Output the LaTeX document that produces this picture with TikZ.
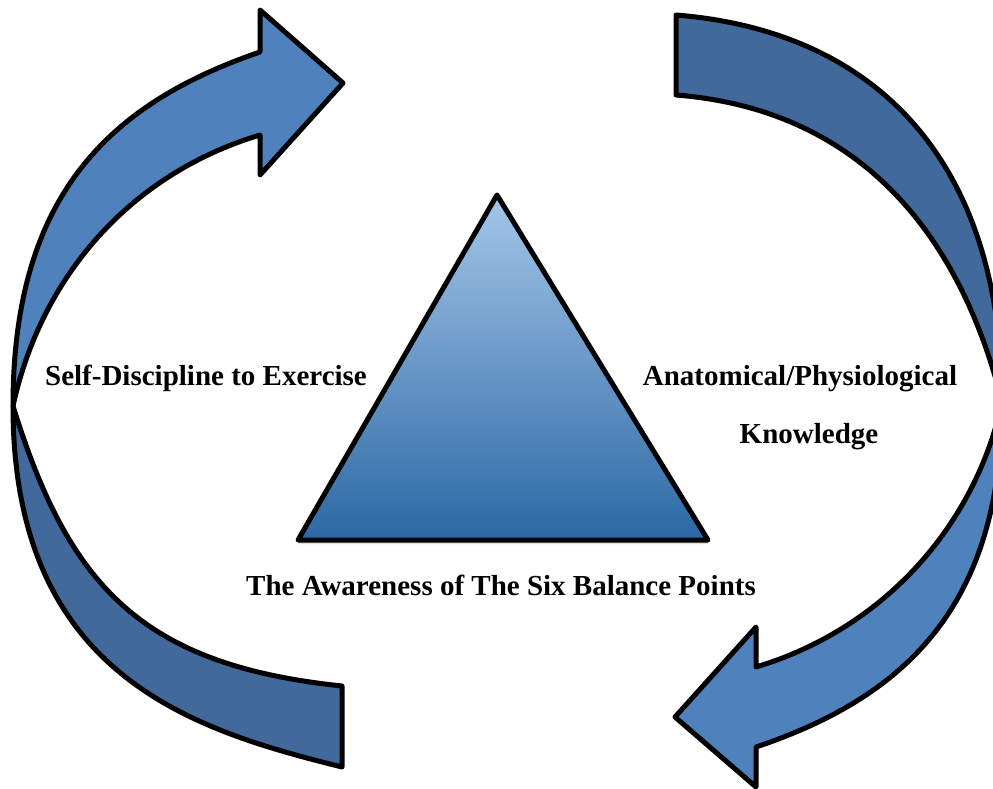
\documentclass[tikz,border=0pt]{standalone}
\usepackage{fontspec}
\setmainfont{Liberation Serif}
\usetikzlibrary{shadows}
\definecolor{arrowfront}{HTML}{4F81BD}
\definecolor{arrowback}{HTML}{41699B}
\definecolor{pyrtop}{HTML}{A4C6E9}
\definecolor{pyrmid}{HTML}{5E9BD3}
\definecolor{pyrbot}{HTML}{2C68A4}
\tikzset{
  frontband/.style={fill=arrowfront, draw=black, line width=5pt, line join=round},
  backband/.style={fill=arrowback, draw=black, line width=5pt, line join=round},
  pyramid/.style={top color=pyrtop, middle color=pyrmid, bottom color=pyrbot,
                  draw=black, line width=5pt, line join=round,
                  drop shadow={shadow xshift=0pt, shadow yshift=-4pt, opacity=0.25}},
  caption/.style={font=\fontsize{29}{34}\selectfont\bfseries, text=black,
                  anchor=base, inner sep=0pt},
}

\begin{document}
\begin{tikzpicture}[x=1pt, y=-1pt]
  \useasboundingbox (0,0) rectangle (993,789);
  \clip (0,0) rectangle (993,789);

  % left arrow, tail at the bottom, head pointing right at the top
  \coordinate (lcross) at (13,406);
  \draw[backband] (lcross) .. controls (13,676) and (193,730) .. (342,767)
    -- (342,686) .. controls (142,665) and (69,587) .. (lcross) -- cycle;
  \draw[frontband] (lcross) .. controls (13,194) and (111,103) .. (260,52)
    -- (260,10) -- (343,83) -- (260,175) -- (260,135)
    .. controls (130,174) and (41,277) .. (lcross) -- cycle;

  % right arrow, tail at the top, head pointing left at the bottom
  \coordinate (rcross) at (1002,402);
  \draw[backband] (676,15) .. controls (876,31) and (1002,161) .. (rcross)
    .. controls (962,242) and (866,110) .. (676,95) -- cycle;
  \draw[frontband] (rcross) .. controls (1002,606) and (905,697) .. (756,747)
    -- (756,787) -- (675,717) -- (756,627) -- (756,667)
    .. controls (886,628) and (976,523) .. (rcross) -- cycle;

  \coordinate (apex) at (497,195);
  \coordinate (baseR) at (708,540);
  \coordinate (baseL) at (298,540);
  \draw[pyramid] (apex) -- (baseR) -- (baseL) -- cycle;

  \node[caption] (discipline) at (206,385) {Self-Discipline to Exercise};
  \node[caption] (anatomy)    at (800,385) {Anatomical/Physiological};
  \node[caption] (knowledge)  at (809,443) {Knowledge};
  \node[caption] (balance)    at (501,595) {The Awareness of The Six Balance Points};
\end{tikzpicture}
\end{document}
